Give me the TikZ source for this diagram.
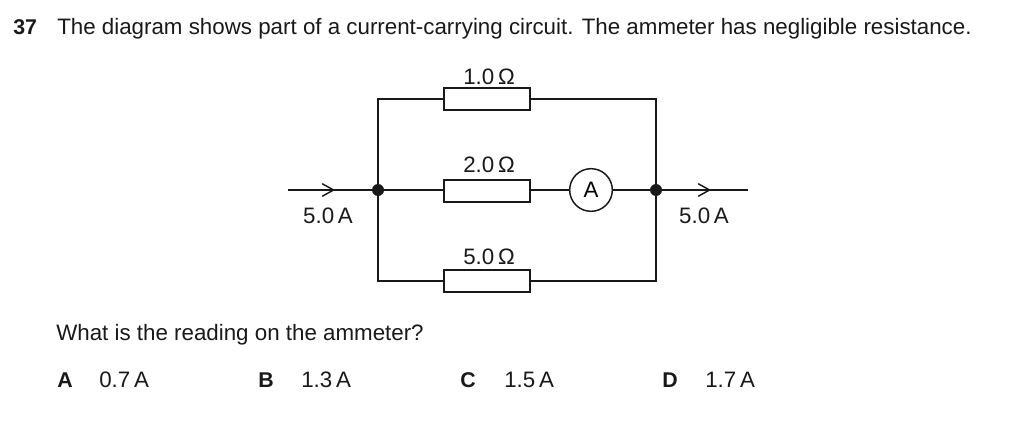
\documentclass[tikz,border=0pt]{standalone}
\usepackage{fontspec}
\setmainfont{Liberation Sans}
\usetikzlibrary{arrows.meta}
\tikzset{
  x=0.75pt,y=-0.75pt,
  wire/.style={line width=1.35pt,black!90},
  res/.style={draw=black!90,line width=1.35pt,fill=white,minimum width=64.5pt,minimum height=16.2pt,inner sep=0pt},
  meter/.style={circle,draw=black!90,line width=1.1pt,fill=white,minimum size=32pt,inner sep=0pt,font=\fontsize{16.75}{20}\selectfont},
  dot/.style={circle,fill=black!90,minimum size=9pt,inner sep=0pt},
  txt/.style={inner sep=0pt,anchor=base west,font=\fontsize{16.75}{20}\selectfont,text=black!90},
  lbl/.style={inner sep=0pt,anchor=base,font=\fontsize{16.75}{20}\selectfont,text=black!90},
  bld/.style={inner sep=0pt,anchor=base west,font=\fontsize{16}{20}\selectfont\bfseries,text=black!90},
  flow/.style={-{Straight Barb[length=8.5pt,width=9.5pt,line width=1.1pt]},line width=1.35pt,black!90}
}
\begin{document}
\begin{tikzpicture}
\useasboundingbox (0,0) rectangle (1024,421);
\node[bld] (q) at (13,34) {37};
\node[txt] (title) at (57,34) {The diagram shows part of a current-carrying circuit. The ammeter has negligible resistance.};
\coordinate (inl) at (288,190);
\coordinate (outr) at (748,190);
\coordinate (tl) at (378,99);
\coordinate (tr) at (656,99);
\coordinate (bl) at (378,281);
\coordinate (br) at (656,281);
\node[dot] (jl) at (378,190) {};
\node[dot] (jr) at (656,190) {};
\node[res] (r1) at (487,99) {};
\node[res] (r2) at (487,191) {};
\node[res] (r3) at (487,281) {};
\node[meter] (am) at (591,190) {A};
\coordinate (a1) at (335,190);
\coordinate (a2) at (711,190);
\draw[wire] (inl) -- (jl) -- (r2.west |- jl);
\draw[wire] (r2.east |- am) -- (am.west);
\draw[wire] (am.east) -- (jr) -- (outr);
\draw[wire] (r1.west) -- (tl) -- (bl) -- (r3.west);
\draw[wire] (r1.east) -- (tr) -- (br) -- (r3.east);
\draw[flow] (inl) -- (a1);
\draw[flow] (jr) -- (a2);
\node[lbl] (l1) at (489,84) {1.0\,Ω};
\node[lbl] (l2) at (489,172) {2.0\,Ω};
\node[lbl] (l3) at (489,264) {5.0\,Ω};
\node[lbl] (il) at (328,223) {5.0\,A};
\node[lbl] (ir) at (704,223) {5.0\,A};
\node[txt] (ask) at (56,340) {What is the reading on the ammeter?};
\node[bld] (ka) at (57,387) {A};
\node[txt] (va) at (99,387) {0.7\,A};
\node[bld] (kb) at (258,387) {B};
\node[txt] (vb) at (301,387) {1.3\,A};
\node[bld] (kc) at (460,387) {C};
\node[txt] (vc) at (504,387) {1.5\,A};
\node[bld] (kd) at (662,387) {D};
\node[txt] (vd) at (705,387) {1.7\,A};
\end{tikzpicture}
\end{document}
